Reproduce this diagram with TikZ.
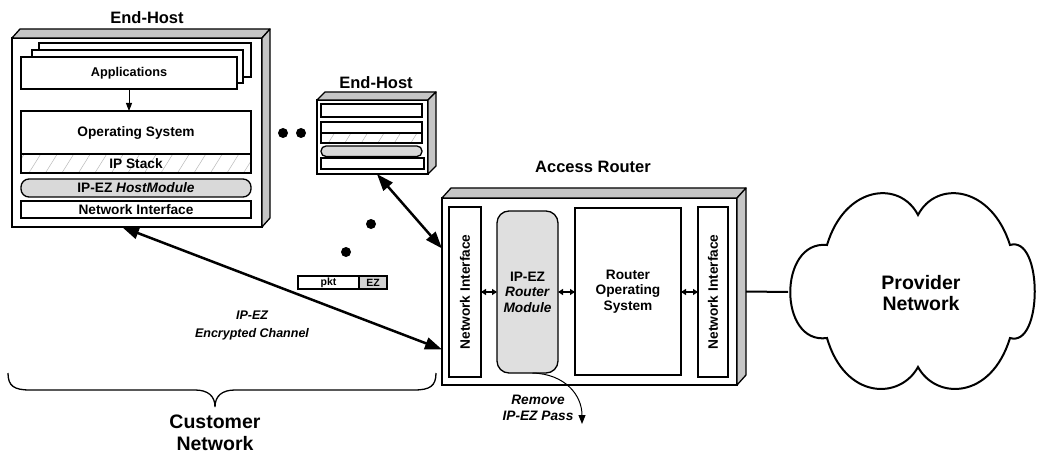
\documentclass[tikz,border=0pt]{standalone}
\usepackage{fontspec}
\setmainfont{Liberation Sans}
\usetikzlibrary{arrows.meta,calc,patterns.meta}
\begin{document}
\begin{tikzpicture}[x=1pt,y=-1pt,
  box/.style={draw, line width=1.3pt, fill=white, inner sep=0pt, outer sep=0pt, anchor=north west, align=center, font=\fontsize{13.7}{15.5}\selectfont\bfseries},
  face/.style={draw, line width=1.3pt, fill=gray!45, line join=round},
  title/.style={font=\fontsize{16.5}{19}\selectfont\bfseries},
  bigtxt/.style={font=\fontsize{19.5}{21.5}\selectfont\bfseries, align=center},
  pillbox/.style={box, rounded corners=8pt, fill=gray!30},
  hatchbox/.style={box, pattern={Lines[angle=58,distance=14pt,line width=0.5pt]}, pattern color=gray!55},
  bigarrow/.style={line width=2.5pt, {Triangle[length=17pt,width=12pt]}-{Triangle[length=17pt,width=12pt]}},
  smallarrow/.style={line width=1.5pt, {Triangle[length=5pt,width=6pt]}-{Triangle[length=5pt,width=6pt]}},
  dotnode/.style={circle, fill=black, inner sep=0pt, minimum size=10pt},
  lbl/.style={font=\fontsize{13.7}{16}\selectfont\bfseries\itshape, align=center},
]
\useasboundingbox (0,0) rectangle (1038,457);

% ---------- big End-Host ----------
\node[title] (t1) at (147,18) {End-Host};
\node[box, minimum width=250pt, minimum height=189pt] (eh) at (12,38) {};
\draw[face] (eh.north west) -- ++(8,-9) -- ($(eh.north east)+(8,-9)$) -- (eh.north east) -- cycle;
\draw[face] (eh.north east) -- ++(8,-9) -- ($(eh.south east)+(8,-9)$) -- (eh.south east) -- cycle;
\node[box, minimum width=212pt, minimum height=34pt] (apps3) at (39,43) {};
\node[box, minimum width=211pt, minimum height=33pt] (apps2) at (32,50) {};
\node[box, minimum width=216pt, minimum height=32pt, font=\fontsize{12.7}{15}\selectfont\bfseries] (apps) at (21,57) {Applications};
\node[box, minimum width=230pt, minimum height=43pt] (os) at (21,111) {Operating System};
\node[hatchbox, minimum width=230pt, minimum height=19pt] (ips) at (21,154) {IP Stack};
\node[pillbox, minimum width=230pt, minimum height=18pt] (hm) at (21,179) {IP-EZ \textit{HostModule}};
\node[box, minimum width=230pt, minimum height=17pt] (ni1) at (21,201) {Network Interface};
\draw[line width=1pt, -{Triangle[length=8pt,width=6pt]}] (apps.south) -- (apps.south |- os.north);

% ---------- small End-Host ----------
\node[title] (t2) at (376,83) {End-Host};
\node[box, minimum width=111pt, minimum height=74pt] (seh) at (317,100) {};
\draw[face] (seh.north west) -- ++(8,-8) -- ($(seh.north east)+(8,-8)$) -- (seh.north east) -- cycle;
\draw[face] (seh.north east) -- ++(8,-8) -- ($(seh.south east)+(8,-8)$) -- (seh.south east) -- cycle;
\node[box, minimum width=101pt, minimum height=13pt] (s1) at (321,104) {};
\node[box, minimum width=101pt, minimum height=11pt] (s2) at (321,122) {};
\node[hatchbox, minimum width=101pt, minimum height=10pt] (s3) at (321,133) {};
\node[pillbox, rounded corners=5pt, minimum width=101pt, minimum height=10.5pt] (s4) at (321,146) {};
\node[box, minimum width=103pt, minimum height=11pt] (s5) at (321,158) {};

% ---------- dots ----------
\node[dotnode] (d1) at (283,133) {};
\node[dotnode] (d2) at (301,133) {};
\node[dotnode] (d3) at (371,224) {};
\node[dotnode] (d4) at (346,252) {};

% ---------- Access Router ----------
\node[title] (t3) at (593,167) {Access Router};
\node[box, minimum width=295pt, minimum height=187pt] (ar) at (442,198) {};
\draw[face] (ar.north west) -- ++(9,-10) -- ($(ar.north east)+(9,-10)$) -- (ar.north east) -- cycle;
\draw[face] (ar.north east) -- ++(9,-10) -- ($(ar.south east)+(9,-10)$) -- (ar.south east) -- cycle;
\node[box, minimum width=32pt, minimum height=170pt] (ni2) at (449,207) {};
\node[box, rotate=90, anchor=center, draw=none, fill=none] (ni2t) at (ni2.center) {Network Interface};
\node[box, rounded corners=12pt, fill=gray!25, minimum width=61pt, minimum height=162pt] (mod) at (497,211) {IP-EZ\\\textit{Router}\\\textit{Module}};
\node[box, minimum width=106pt, minimum height=167pt] (ros) at (575,208) {Router\\Operating\\System};
\node[box, minimum width=30pt, minimum height=170pt] (ni3) at (698,207) {};
\node[box, rotate=90, anchor=center, draw=none, fill=none] (ni3t) at (ni3.center) {Network Interface};
\draw[smallarrow] (ni2.east) -- (mod.west);
\draw[smallarrow] (mod.east) -- (ros.west |- mod.east);
\draw[smallarrow] (ros.east |- mod.east) -- (ni3.west |- mod.east);

% ---------- packet ----------
\node[box, font=\fontsize{10.5}{12}\selectfont\bfseries, minimum width=61pt, minimum height=13pt] (pkt) at (298,276) {pkt};
\node[box, font=\fontsize{10.5}{12}\selectfont\bfseries, fill=gray!35, minimum width=28pt, minimum height=13pt] (ez) at (359,276) {EZ};

% ---------- channels ----------
\draw[bigarrow] ($(eh.south west)!0.44!(eh.south east)$) -- ($(ar.north west)!0.81!(ar.south west)$);
\draw[bigarrow] ($(seh.south west)!0.54!(seh.south east)$) -- ($(ar.north west)!0.27!(ar.south west)$);
\node[lbl, font=\fontsize{12.5}{18}\selectfont\bfseries\itshape] (chan) at (252,325) {IP-EZ\\Encrypted Channel};

% ---------- remove pass ----------
\coordinate (rp) at (582,424);
\draw[line width=1pt, -{Triangle[length=9pt,width=7pt]}] ($(mod.south)+(5,0)$) .. controls (565,374) and (582,395) .. (rp);
\node[lbl] (rem) at (538,408) {Remove\\IP-EZ Pass};

% ---------- cloud ----------
\draw[line width=2pt, fill=white, line join=miter] (827,245) .. controls (845,185) and (900,180) .. (918,215)
  .. controls (936,180) and (991,185) .. (1010,245)
  .. controls (1043,235) and (1043,348) .. (1010,338)
  .. controls (991,400) and (936,400) .. (918,367)
  .. controls (900,400) and (845,400) .. (827,338)
  .. controls (778,345) and (778,240) .. (827,245) -- cycle;
\coordinate (cw) at (788,292);
\node[bigtxt] (prov) at (921,293) {Provider\\Network};
\draw[line width=2pt] ($(ar.east)+(9,0)$) -- (cw);

% ---------- brace ----------
\draw[line width=1.3pt] (8,373) .. controls (8,386) and (14,390) .. (30,390) -- (195,390)
  .. controls (208,390) and (215,396) .. (215,407)
  .. controls (215,396) and (222,390) .. (235,390) -- (414,390)
  .. controls (430,390) and (436,386) .. (436,373);
\node[bigtxt] (cust) at (215,433) {Customer\\Network};
\end{tikzpicture}
\end{document}
